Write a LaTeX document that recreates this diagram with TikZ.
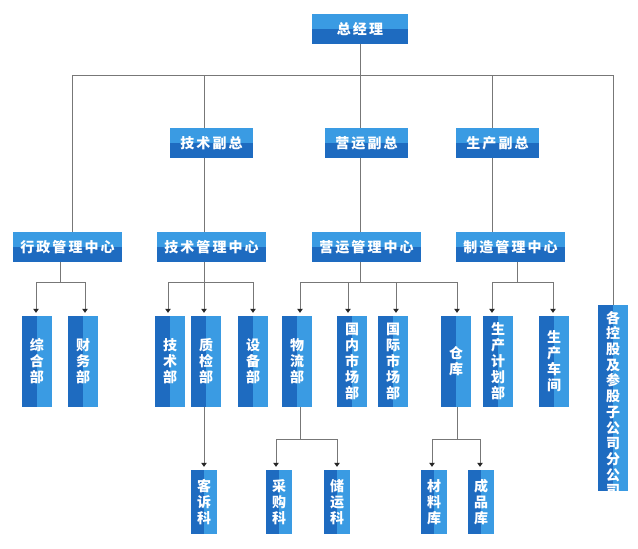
\documentclass[tikz,border=0pt]{standalone}
\usepackage{fontspec}
\setmainfont{Noto Sans CJK SC}
\newfontfamily\hfont[LetterSpace=15]{Noto Sans CJK SC}
\newfontfamily\vfont{Noto Sans CJK SC}
\usetikzlibrary{arrows.meta}
\definecolor{lb}{HTML}{3A9BE3}
\definecolor{db}{HTML}{1E6BC0}
\definecolor{lnc}{HTML}{777777}
\tikzset{
  hbox/.style={fill=db, minimum width=#1, minimum height=30pt, inner sep=0pt,
    text=white, font=\hfont\bfseries\fontsize{14}{14}\selectfont,
    path picture={\fill[lb] (path picture bounding box.north west) rectangle (path picture bounding box.east);}},
  vbox/.style 2 args={fill=lb, minimum width=#1, minimum height=#2, inner sep=0pt,
    text=white, align=center, font=\vfont\bfseries\fontsize{14}{16}\selectfont,
    path picture={\fill[db] (path picture bounding box.north west) rectangle (path picture bounding box.south);}},
  vtext/.style={inner sep=0pt, text=white, align=center, font=\vfont\bfseries\fontsize{14}{15.7}\selectfont},
  conn/.style={draw=lnc, line width=0.8pt},
  arr/.style={conn, -{Triangle[width=5.5pt,length=4pt,color=black!85]}, shorten >=3pt},
}
\begin{document}
\begin{tikzpicture}[x=1pt,y=-1pt]
\fill[white] (0,0) rectangle (638,549);
\useasboundingbox (0,0) rectangle (638,549);
% column and row coordinates
\foreach \c in {36,60,72,85,168,204,253,276,300,337,348,360,396,432,457,480,492,517,553}
  \coordinate (k\c) at (\c,0);
\coordinate (b1) at (0,75);
\coordinate (b2) at (0,282);
\coordinate (b3) at (0,439);
% header boxes
\node[hbox=96pt] (zjl) at (360,29) {总经理};
\node[hbox=83pt] (js) at (211.5,143) {技术副总};
\node[hbox=83pt] (yy) at (366.5,143) {营运副总};
\node[hbox=83pt] (sc) at (497.5,143) {生产副总};
\node[hbox=109pt] (xzc) at (67.5,247) {行政管理中心};
\node[hbox=109pt] (jsc) at (211.5,247) {技术管理中心};
\node[hbox=109pt] (yyc) at (366.5,247) {营运管理中心};
\node[hbox=109pt] (zzc) at (510.5,247) {制造管理中心};
% departments
\node[vbox={30pt}{91pt}] (zh) at (37,361.5) {综\\合\\部};
\node[vbox={30pt}{91pt}] (cw) at (83,361.5) {财\\务\\部};
\node[vbox={30pt}{91pt}] (jsb) at (170,361.5) {技\\术\\部};
\node[vbox={30pt}{91pt}] (zj) at (206,361.5) {质\\检\\部};
\node[vbox={30pt}{91pt}] (sb) at (253,361.5) {设\\备\\部};
\node[vbox={30pt}{91pt}] (wl) at (297,361.5) {物\\流\\部};
\node[vbox={30pt}{91pt}] (gn) at (352,361.5) {国\\内\\市\\场\\部};
\node[vbox={30pt}{91pt}] (gj) at (393,361.5) {国\\际\\市\\场\\部};
\node[vbox={30pt}{91pt}] (ck) at (456,361.5) {仓\\库};
\node[vbox={30pt}{91pt}] (jh) at (498,361.5) {生\\产\\计\\划\\部};
\node[vbox={30pt}{91pt}] (cj) at (554,361.5) {生\\产\\车\\间};
\node[vbox={30pt}{186pt}] (gk) at (613,398) {};
\begin{scope}
  \clip (gk.north west) rectangle (gk.south east);
  \node[vtext, anchor=north] (gkt) at ([yshift=-6pt]gk.north) {各\\控\\股\\及\\参\\股\\子\\公\\司\\分\\公\\司};
\end{scope}
% sections
\node[vbox={26pt}{64pt}] (ks) at (204,502) {客\\诉\\科};
\node[vbox={26pt}{64pt}] (cg) at (279,502) {采\\购\\科};
\node[vbox={26pt}{64pt}] (cy) at (337,502) {储\\运\\科};
\node[vbox={26pt}{64pt}] (cl) at (434,502) {材\\料\\库};
\node[vbox={26pt}{64pt}] (cp) at (481,502) {成\\品\\库};
% top bus
\draw[conn] (zjl.south) -- (yy.north -| zjl.south);
\draw[conn] (xzc.north -| k72) |- (gk.north |- b1) -- (gk.north);
\draw[conn] (k204 |- b1) -- (js.north -| k204);
\draw[conn] (k492 |- b1) -- (sc.north -| k492);
% VP to centres
\draw[conn] (js.south -| k204) -- (jsc.north -| k204);
\draw[conn] (yy.south -| k360) -- (yyc.north -| k360);
\draw[conn] (sc.south -| k492) -- (zzc.north -| k492);
% centres to departments
\draw[conn] (xzc.south -| k60) -- (k60 |- b2);
\draw[conn] (k36 |- b2) -- (k85 |- b2);
\draw[arr] (k36 |- b2) -- (zh.north -| k36);
\draw[arr] (k85 |- b2) -- (cw.north -| k85);
\draw[conn] (jsc.south -| k204) -- (k204 |- b2);
\draw[conn] (k168 |- b2) -- (k253 |- b2);
\draw[arr] (k168 |- b2) -- (jsb.north -| k168);
\draw[arr] (k204 |- b2) -- (zj.north -| k204);
\draw[arr] (k253 |- b2) -- (sb.north -| k253);
\draw[conn] (yyc.south -| k360) -- (k360 |- b2);
\draw[conn] (k300 |- b2) -- (k457 |- b2);
\draw[arr] (k300 |- b2) -- (wl.north -| k300);
\draw[arr] (k348 |- b2) -- (gn.north -| k348);
\draw[arr] (k396 |- b2) -- (gj.north -| k396);
\draw[arr] (k457 |- b2) -- (ck.north -| k457);
\draw[conn] (zzc.south -| k517) -- (k517 |- b2);
\draw[conn] (k492 |- b2) -- (k553 |- b2);
\draw[arr] (k492 |- b2) -- (jh.north -| k492);
\draw[arr] (k553 |- b2) -- (cj.north -| k553);
% departments to sections
\draw[arr] (zj.south -| k204) -- (ks.north -| k204);
\draw[conn] (wl.south -| k300) -- (k300 |- b3);
\draw[conn] (k276 |- b3) -- (k337 |- b3);
\draw[arr] (k276 |- b3) -- (cg.north -| k276);
\draw[arr] (k337 |- b3) -- (cy.north -| k337);
\draw[conn] (ck.south -| k457) -- (k457 |- b3);
\draw[conn] (k432 |- b3) -- (k480 |- b3);
\draw[arr] (k432 |- b3) -- (cl.north -| k432);
\draw[arr] (k480 |- b3) -- (cp.north -| k480);
\end{tikzpicture}
\end{document}
